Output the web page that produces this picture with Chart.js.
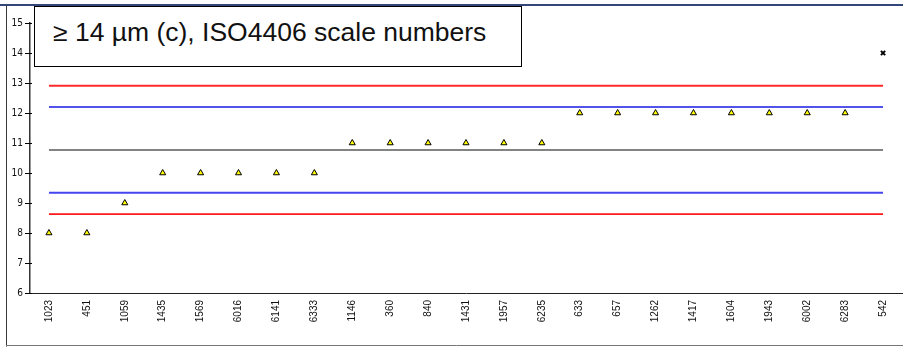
<!DOCTYPE html>
<html>
<head>
<meta charset="utf-8">
<script src="https://cdn.jsdelivr.net/npm/chart.js@4/dist/chart.umd.min.js"></script>
<style>
  html, body { margin: 0; padding: 0; overflow: hidden; background: #fff; }
  #wrap { position: relative; width: 903px; height: 347px; overflow: hidden; }
  #chart { position: absolute; left: 0; top: 0; }
  #titleBox {
    position: absolute; left: 34px; top: 6px; width: 468px; height: 44px;
    border: 1px solid #000; background: #fff;
    font-family: "Liberation Sans", Arial, sans-serif; font-size: 25px;
    line-height: 24px; padding: 13px 0 2px 18px; color: #111; white-space: nowrap;
  }
  #titleBox span { display: inline-block; transform: scaleX(1.06); transform-origin: left center; }
</style>
</head>
<body>
<div id="wrap">
  <canvas id="chart" width="907" height="347"></canvas>
  <div id="titleBox"><span>≥ 14 µm (c), ISO4406 scale numbers</span></div>
</div>
<script>
// Sample identifiers along the x axis
const sampleIds = ['1023', '451', '1059', '1435', '1569', '6016', '6141', '6333', '1146', '360', '840',
  '1431', '1957', '6235', '633', '657', '1262', '1417', '1604', '1943', '6002', '6283', '542'];

// ISO4406 scale number per sample (≥ 14 µm, code c)
const scaleInRange = [8, 8, 9, 10, 10, 10, 10, 10, 11, 11, 11, 11, 11, 11, 12, 12, 12, 12, 12, 12, 12, 12, null];
const scaleOutlier = [null, null, null, null, null, null, null, null, null, null, null,
  null, null, null, null, null, null, null, null, null, null, null, 14];

// Control levels
const meanLevel = 10.77;
const upperInner = 12.2;
const lowerInner = 9.34;
const upperOuter = 12.91;
const lowerOuter = 8.63;

// y axis range and tick step
const yMin = 6;
const yMax = 15;
const yStep = 1;

const flat = v => sampleIds.map(() => v);
const FONT = '"Liberation Sans", Arial, sans-serif';
const NARROW = '"Liberation Sans Narrow", "DejaVu Sans Condensed", Arial, sans-serif';

// Frame lines and y-axis tick marks that cross the axis
const framePlugin = {
  id: 'frame',
  beforeDraw(chart) {
    const c = chart.ctx;
    c.save();
    c.fillStyle = '#fff';
    c.fillRect(0, 0, chart.width, chart.height);
    c.strokeStyle = '#34457a';
    c.lineWidth = 2;
    c.beginPath(); c.moveTo(0, 5); c.lineTo(chart.width, 5); c.stroke();
    c.strokeStyle = '#3a3a3a';
    c.lineWidth = 1;
    c.beginPath(); c.moveTo(6.5, 5); c.lineTo(6.5, 346.5); c.stroke();
    c.strokeStyle = '#777';
    c.beginPath(); c.moveTo(6, 345.5); c.lineTo(chart.width, 345.5); c.stroke();
    c.restore();
  },
  afterDraw(chart) {
    const y = chart.scales.y;
    const c = chart.ctx;
    c.save();
    c.strokeStyle = '#000';
    c.lineWidth = 1;
    y.ticks.forEach(t => {
      const py = Math.round(y.getPixelForValue(t.value)) + 0.5;
      c.beginPath(); c.moveTo(y.right - 5, py); c.lineTo(y.right + 2, py); c.stroke();
    });
    c.restore();
  }
};

const levelLine = (data, color, width) => ({
  type: 'line', data, borderColor: color, borderWidth: width,
  pointRadius: 0, pointHoverRadius: 0, fill: false, order: 2
});

new Chart(document.getElementById('chart'), {
  type: 'line',
  data: {
    labels: sampleIds,
    datasets: [
      levelLine(flat(upperOuter), '#ff2a2a', 2),
      levelLine(flat(upperInner), '#1a1ae6', 1.6),
      levelLine(flat(meanLevel), '#5a5a5a', 1.5),
      levelLine(flat(lowerInner), '#4646f0', 2),
      levelLine(flat(lowerOuter), '#ff1a1a', 1.6),
      {
        data: scaleInRange, showLine: false, order: 1,
        pointStyle: 'triangle', pointRadius: 3.5, pointHoverRadius: 3.5,
        pointBackgroundColor: '#ffff00', pointBorderColor: '#000', pointBorderWidth: 1
      },
      {
        data: scaleOutlier, showLine: false, order: 1,
        pointStyle: 'crossRot', pointRadius: 3, pointHoverRadius: 3,
        pointBorderColor: '#000', pointBorderWidth: 2
      }
    ]
  },
  options: {
    responsive: false,
    animation: false,
    layout: { padding: { top: 23, left: 0, right: 0, bottom: 0 } },
    plugins: { legend: { display: false }, tooltip: { enabled: false }, title: { display: false } },
    scales: {
      x: {
        type: 'category',
        offset: true,
        grid: { display: false, drawTicks: false },
        border: { display: true, color: '#222', width: 1 },
        ticks: {
          autoSkip: false, minRotation: 90, maxRotation: 90, padding: 7,
          color: '#111', font: { family: FONT, size: 10 }
        },
        afterFit(scale) { scale.height = 54; }
      },
      y: {
        min: yMin, max: yMax,
        grid: { display: false, drawTicks: false },
        border: { display: true, color: '#333', width: 1.5 },
        ticks: {
          stepSize: yStep, padding: 7,
          color: '#111', font: { family: NARROW, size: 10 }
        },
        afterFit(scale) { scale.width = 30; }
      }
    }
  },
  plugins: [framePlugin]
});
</script>
</body>
</html>
